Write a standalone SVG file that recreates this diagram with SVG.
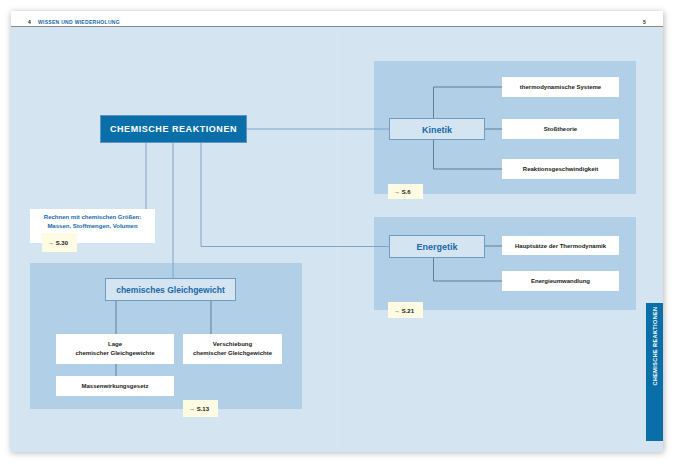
<svg xmlns="http://www.w3.org/2000/svg" width="677" height="465" viewBox="0 0 677 465">
<defs>
<filter id="sh" x="-5%" y="-5%" width="110%" height="110%"><feGaussianBlur stdDeviation="3"/></filter>
<style>
text{font-family:"Liberation Sans",Arial,sans-serif}
.panel{fill:#b1cfe6}
.mid{fill:#d5e4f1;stroke:#6f9cc4;stroke-width:1}
.wb{fill:#ffffff}
.wt{font-size:6px;font-weight:bold;fill:#1a1a1a;text-anchor:middle}
.mt{font-size:9px;font-weight:bold;fill:#1769a8;text-anchor:middle}
.tag{fill:#fdfbe1}
.tt{font-size:6px;font-weight:bold;fill:#1a1a1a}
.con{fill:none;stroke:#5f7f97;stroke-width:1}
.con2{fill:none;stroke:#7fa4c6;stroke-width:1}
</style>
</defs>
<rect width="677" height="465" fill="#ffffff"/>
<rect x="11" y="12" width="653" height="441" fill="#b8b8b8" filter="url(#sh)"/>
<rect x="11" y="11" width="652" height="441" fill="#ffffff"/>
<rect x="11" y="27" width="652" height="425" fill="#d5e4f1"/>
<line x1="11" y1="26.5" x2="663" y2="26.5" stroke="#8a8a8a" stroke-width="1"/>
<line x1="337.5" y1="27" x2="337.5" y2="452" stroke="#d9e7f3" stroke-width="1"/>
<text x="28" y="24" font-size="5px" font-weight="bold" fill="#222">4</text>
<text x="38" y="24" font-size="5px" font-weight="bold" fill="#1769a8" letter-spacing="0.3">WISSEN UND WIEDERHOLUNG</text>
<text x="643" y="24" font-size="5px" font-weight="bold" fill="#222">5</text>

<g id="panels">
<rect class="panel" x="374" y="61" width="262" height="133"/>
<rect class="panel" x="374" y="217" width="262" height="93"/>
<rect class="panel" x="30" y="263" width="272" height="146"/>
</g>

<g id="connectors">
<line class="con2" x1="247" y1="129" x2="389" y2="129"/>
<line class="con2" x1="146" y1="143" x2="146" y2="209"/>
<line class="con2" x1="173" y1="143" x2="173" y2="278"/>
<polyline class="con2" points="201,143 201,246.5 389,246.5"/>
<polyline class="con" points="502,87 433.5,87 433.5,169 502,169"/>
<line class="con" x1="485" y1="129" x2="502" y2="129"/>
<line class="con" x1="485" y1="246" x2="502" y2="246"/>
<polyline class="con" points="433.5,258 433.5,281 502,281"/>
<line class="con" x1="116" y1="301" x2="116" y2="376"/>
<line class="con" x1="211" y1="301" x2="211" y2="334"/>
</g>

<g id="n-main">
<rect x="100.5" y="115.5" width="146" height="27" fill="#0a6fa8" stroke="#5f93c4" stroke-width="1"/>
<text x="173.5" y="132" font-size="9px" font-weight="bold" fill="#ffffff" text-anchor="middle" letter-spacing="0.55">CHEMISCHE REAKTIONEN</text>
</g>

<g id="n-kinetik">
<rect class="mid" x="389.5" y="118.5" width="95" height="21"/>
<text class="mt" x="437" y="132.5">Kinetik</text>
</g>
<g id="n-thermo"><rect class="wb" x="502" y="77" width="117" height="20"/><text class="wt" x="560.5" y="89">thermodynamische Systeme</text></g>
<g id="n-stoss"><rect class="wb" x="502" y="119" width="117" height="20"/><text class="wt" x="560.5" y="131">Stoßtheorie</text></g>
<g id="n-rg"><rect class="wb" x="502" y="159" width="117" height="20"/><text class="wt" x="560.5" y="171">Reaktionsgeschwindigkeit</text></g>
<g id="t-s6"><rect class="tag" x="388" y="184" width="35" height="15"/><text class="tt" x="394" y="194">→ S.6</text></g>

<g id="n-energetik">
<rect class="mid" x="389.5" y="235.5" width="95" height="22"/>
<text class="mt" x="437" y="249.5">Energetik</text>
</g>
<g id="n-haupt"><rect class="wb" x="502" y="236" width="117" height="19"/><text class="wt" x="560.5" y="247.5">Hauptsätze der Thermodynamik</text></g>
<g id="n-energie"><rect class="wb" x="502" y="271" width="117" height="20"/><text class="wt" x="560.5" y="283">Energieumwandlung</text></g>
<g id="t-s21"><rect class="tag" x="388" y="302" width="35" height="16"/><text class="tt" x="394" y="312.5">→ S.21</text></g>

<g id="n-rechnen">
<rect class="wb" x="30" y="209" width="125" height="34"/>
<text x="92.5" y="219" font-size="6px" font-weight="bold" fill="#1769a8" text-anchor="middle">Rechnen mit chemischen Größen:</text>
<text x="92.5" y="228" font-size="6px" font-weight="bold" fill="#1769a8" text-anchor="middle">Massen, Stoffmengen, Volumen</text>
</g>
<g id="t-s30"><rect class="tag" x="42" y="233" width="35" height="19"/><text class="tt" x="48" y="245">→ S.30</text></g>

<g id="n-gleich">
<rect class="mid" x="105.5" y="278.5" width="130" height="22"/>
<text x="170.5" y="292.5" font-size="8.5px" font-weight="bold" fill="#1769a8" text-anchor="middle">chemisches Gleichgewicht</text>
</g>
<g id="n-lage"><rect class="wb" x="56" y="334" width="118" height="30"/><text class="wt" x="115" y="346">Lage</text><text class="wt" x="115" y="354.5">chemischer Gleichgewichte</text></g>
<g id="n-versch"><rect class="wb" x="183" y="334" width="99" height="30"/><text class="wt" x="232.5" y="346">Verschiebung</text><text class="wt" x="232.5" y="354.5">chemischer Gleichgewichte</text></g>
<g id="n-mwg"><rect class="wb" x="56" y="376" width="118" height="20"/><text class="wt" x="115" y="388">Massenwirkungsgesetz</text></g>
<g id="t-s13"><rect class="tag" x="183" y="400" width="35" height="17"/><text class="tt" x="189" y="411">→ S.13</text></g>

<g id="sidetab">
<rect x="646" y="303" width="17" height="138" fill="#0a6fa8"/>
<text transform="translate(657,346) rotate(-90)" font-size="5.5px" font-weight="bold" fill="#ffffff" text-anchor="middle" letter-spacing="0.4">CHEMISCHE REAKTIONEN</text>
</g>
</svg>
